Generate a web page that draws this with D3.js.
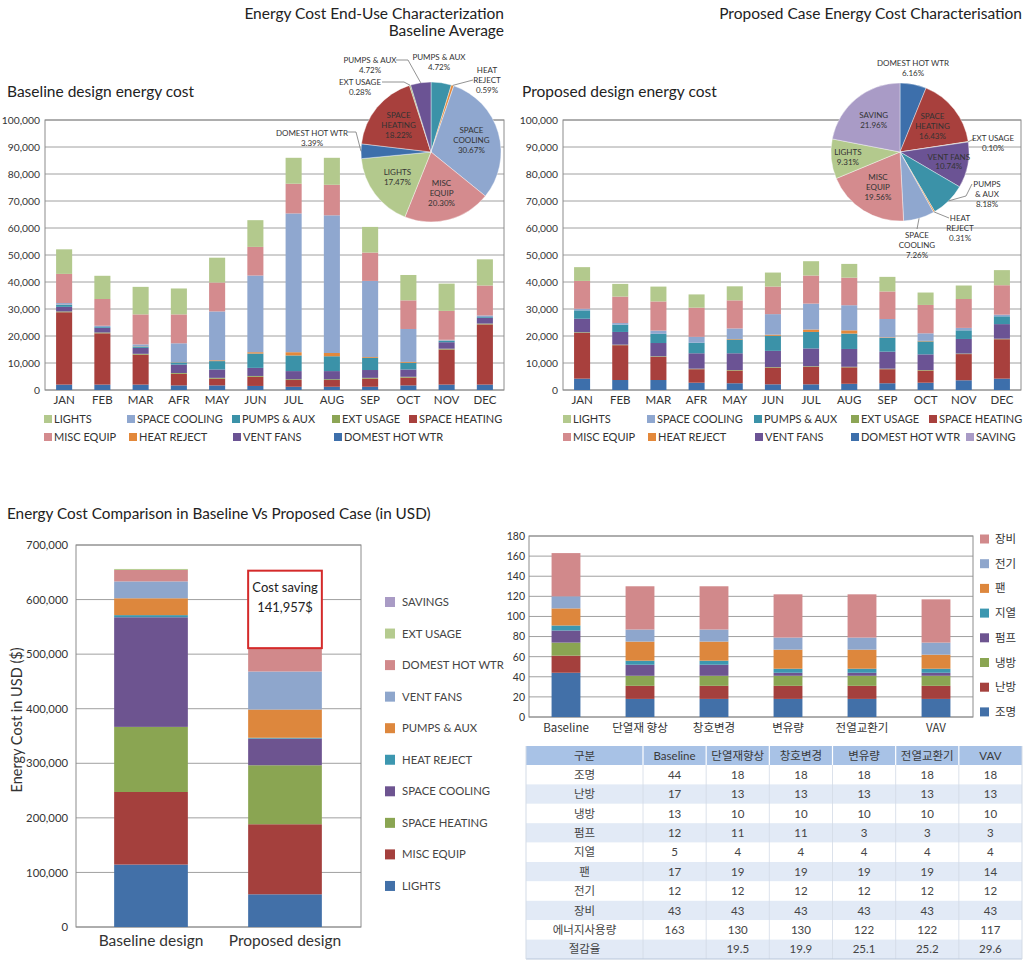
<!DOCTYPE html>
<html><head><meta charset="utf-8">
<script src="https://cdn.jsdelivr.net/npm/d3@7"></script>
<style>
body{margin:0;background:#fff}
svg{display:block}
text{font-family:Lato,'Noto Sans CJK KR','Noto Sans',sans-serif}
</style>
</head><body>
<svg id="c" width="1024" height="965"></svg>
<script>
// ---------------- DATA ----------------
const months = ["JAN","FEB","MAR","AFR","MAY","JUN","JUL","AUG","SEP","OCT","NOV","DEC"];
const monthlyKeys = ["DOMEST HOT WTR","SPACE HEATING","EXT USAGE","VENT FANS","PUMPS & AUX","HEAT REJECT","SPACE COOLING","MISC EQUIP","LIGHTS"];

// Baseline monthly energy cost ($)
const baseDomestHotWtr = [2000,2000,2000,1700,1700,1500,1200,1200,1200,1700,2000,2000];
const baseSpaceHeating = [26800,19000,11100,4300,2500,3400,2500,2500,3000,2900,13000,22300];
const baseExtUsage     = [300,300,300,300,300,300,300,300,300,300,300,300];
const baseVentFans     = [1700,1700,2200,3100,3100,3000,3000,3000,2900,2700,2400,2100];
const basePumpsAux     = [700,300,500,800,3100,5300,5800,5500,4500,2500,500,300];
const baseHeatReject   = [100,0,100,100,300,500,1200,1200,300,300,100,0];
const baseSpaceCooling = [600,500,700,7000,18100,28400,51400,51000,28200,12200,300,600];
const baseMiscEquip    = [10800,9900,11100,10700,10700,10600,11000,11300,10500,10600,10700,11100];
const baseLights       = [9100,8600,10200,9600,9200,9900,9600,10000,9500,9400,10100,9700];

// Proposed monthly energy cost ($)
const propDomestHotWtr = [4200,3700,3700,2700,2500,2100,2100,2300,2500,2700,3600,4200];
const propSpaceHeating = [17000,12900,8600,5000,4700,6200,6500,6100,5200,4500,9700,14600];
const propExtUsage     = [200,200,200,200,200,200,200,200,200,200,200,200];
const propVentFans     = [5000,4700,4900,5700,6200,6000,6600,6600,6300,5800,5400,5400];
const propPumpsAux     = [3100,2700,3400,3900,5100,5600,6100,5700,5100,4800,3200,2900];
const propHeatReject   = [0,0,0,0,200,400,900,1200,200,200,0,0];
const propSpaceCooling = [600,600,1200,2200,3900,7600,9600,9300,6800,2800,900,600];
const propMiscEquip    = [10300,9800,10800,10800,10400,10200,10400,10200,10200,10500,10700,10900];
const propLights       = [5100,4700,5500,4900,5200,5200,5300,5100,5400,4600,5000,5600];

const monthlyTicks = [0,10000,20000,30000,40000,50000,60000,70000,80000,90000,100000];

// Pie: baseline average
const basePieLabels = ["PUMPS & AUX","HEAT REJECT","SPACE COOLING","MISC EQUIP","LIGHTS","DOMEST HOT WTR","SPACE HEATING","EXT USAGE","PUMPS & AUX"];
const basePieKeys   = ["PUMPS & AUX","HEAT REJECT","SPACE COOLING","MISC EQUIP","LIGHTS","DOMEST HOT WTR","SPACE HEATING","EXT USAGE","VENT FANS"];
const basePieShares = [4.72,0.59,30.67,20.30,17.47,3.39,18.22,0.28,4.72];
// Pie: proposed case
const propPieLabels = ["DOMEST HOT WTR","SPACE HEATING","EXT USAGE","VENT FANS","PUMPS & AUX","HEAT REJECT","SPACE COOLING","MISC EQUIP","LIGHTS","SAVING"];
const propPieShares = [6.16,16.43,0.10,10.74,8.18,0.31,7.26,19.56,9.31,21.96];

// Annual comparison (USD)
const annualCategories = ["Baseline design","Proposed design"];
const annualKeys = ["LIGHTS","MISC EQUIP","SPACE HEATING","SPACE COOLING","HEAT REJECT","PUMPS & AUX","VENT FANS","DOMEST HOT WTR","EXT USAGE","SAVINGS"];
const annualBaseline = [114400,133000,119300,200900,3900,30900,30900,21000,1800,0];
const annualProposed = [59900,128400,108100,48900,1500,51700,69700,41600,1200,141957];
const annualTicks = [0,100000,200000,300000,400000,500000,600000,700000];
const costSaving = "141,957$";

// Korean comparison chart / table
const scenarios = ["Baseline","단열재 향상","창호변경","변유량","전열교환기","VAV"];
const scenarioHeads = ["Baseline","단열재향상","창호변경","변유량","전열교환기","VAV"];
const krKeys = ["조명","난방","냉방","펌프","지열","팬","전기","장비"];
const krLighting   = [44,18,18,18,18,18];
const krHeating    = [17,13,13,13,13,13];
const krCooling    = [13,10,10,10,10,10];
const krPump       = [12,11,11,3,3,3];
const krGeothermal = [5,4,4,4,4,4];
const krFan        = [17,19,19,19,19,14];
const krElectric   = [12,12,12,12,12,12];
const krEquipment  = [43,43,43,43,43,43];
const krEnergyUse  = [163,130,130,122,122,117];
const krSavingRate = ["",19.5,19.9,25.1,25.2,29.6];
const krTicks = [0,20,40,60,80,100,120,140,160,180];

// ---------------- STYLES ----------------
const monthlyColors = {
  "LIGHTS":"#b3c98d","SPACE COOLING":"#8fa7cf","PUMPS & AUX":"#3b92a8","EXT USAGE":"#8ca555",
  "SPACE HEATING":"#a8403d","MISC EQUIP":"#d48b8e","HEAT REJECT":"#e3883a","VENT FANS":"#6b5394",
  "DOMEST HOT WTR":"#3d6fab","SAVING":"#a99bc6"
};
const annualColors = {
  "LIGHTS":"#4270a8","MISC EQUIP":"#a4403d","SPACE HEATING":"#8aa552","SPACE COOLING":"#6d5490",
  "HEAT REJECT":"#3c97b0","PUMPS & AUX":"#dd873d","VENT FANS":"#8ea6cc","DOMEST HOT WTR":"#d1898b",
  "EXT USAGE":"#b5cb8f","SAVINGS":"#a99bc5"
};
const krColors = {"조명":"#4270a8","난방":"#a4403d","냉방":"#8aa552","펌프":"#6d5490","지열":"#3c97b0","팬":"#dd873d","전기":"#8ea6cc","장비":"#d1898b"};

const svg = d3.select("#c");
svg.append("rect").attr("width",1024).attr("height",965).attr("fill","#fff");
const fmt = d3.format(",");

function rowsFrom(arrs){
  return months.map((m,i)=>{ const r={month:m}; monthlyKeys.forEach((k,j)=>r[k]=arrs[j][i]); return r; });
}
const baseRows = rowsFrom([baseDomestHotWtr,baseSpaceHeating,baseExtUsage,baseVentFans,basePumpsAux,baseHeatReject,baseSpaceCooling,baseMiscEquip,baseLights]);
const propRows = rowsFrom([propDomestHotWtr,propSpaceHeating,propExtUsage,propVentFans,propPumpsAux,propHeatReject,propSpaceCooling,propMiscEquip,propLights]);

function monthlyChart(rows, x0, x1, yTop, yBot){
  const g = svg.append("g");
  const x = d3.scaleBand().domain(months).range([x0,x1]).paddingInner(0.58).paddingOuter(0.29);
  const y = d3.scaleLinear().domain([0,100000]).range([yBot,yTop]);
  g.selectAll("line.grid").data(monthlyTicks).join("line")
    .attr("x1",x0).attr("x2",x1).attr("y1",d=>y(d)).attr("y2",d=>y(d))
    .attr("stroke","#a0a0a0").attr("stroke-width",1);
  g.append("rect").attr("x",x0).attr("y",yTop).attr("width",x1-x0).attr("height",yBot-yTop)
    .attr("fill","none").attr("stroke","#8c8c8c");
  const ax = g.append("g").attr("transform",`translate(${x0},0)`)
    .call(d3.axisLeft(y).tickValues(monthlyTicks).tickFormat(fmt).tickSize(0).tickPadding(5));
  ax.select(".domain").remove();
  ax.selectAll("text").attr("font-size",10.3).attr("fill","#333").style("font-family","Lato");
  const stack = d3.stack().keys(monthlyKeys)(rows);
  g.selectAll("g.s").data(stack).join("g").attr("fill",d=>monthlyColors[d.key])
    .selectAll("rect").data(d=>d).join("rect")
    .attr("x",d=>x(d.data.month)).attr("width",x.bandwidth())
    .attr("y",d=>y(d[1])).attr("height",d=>Math.max(0,y(d[0])-y(d[1])));
  const xa = g.append("g").attr("transform",`translate(0,${yBot})`)
    .call(d3.axisBottom(x).tickSize(0).tickPadding(6));
  xa.select(".domain").remove();
  xa.selectAll("text").attr("font-size",11.5).attr("fill","#333").style("font-family","Lato");
}
monthlyChart(baseRows, 45, 504, 120, 390);
monthlyChart(propRows, 563, 1021, 120, 390);

// legends for monthly charts
function legendRow(items, xs, y, colors){
  const g = svg.append("g");
  items.forEach((k,i)=>{
    g.append("rect").attr("x",xs[i]).attr("y",y-4).attr("width",8).attr("height",8).attr("fill",colors[k]);
    g.append("text").attr("x",xs[i]+10).attr("y",y).attr("dy","0.35em").attr("font-size",11)
      .attr("fill","#333").text(k);
  });
}
legendRow(["LIGHTS","SPACE COOLING","PUMPS & AUX","EXT USAGE","SPACE HEATING"],[44,127,232,332,409],419,monthlyColors);
legendRow(["MISC EQUIP","HEAT REJECT","VENT FANS","DOMEST HOT WTR"],[44,129,233,334],437,monthlyColors);
legendRow(["LIGHTS","SPACE COOLING","PUMPS & AUX","EXT USAGE","SPACE HEATING"],[563,647,754,851,929],419,monthlyColors);
legendRow(["MISC EQUIP","HEAT REJECT","VENT FANS","DOMEST HOT WTR","SAVING"],[563,648,755,851,966],437,monthlyColors);

// titles
function txt(x,y,s,size,anchor,fill){
  return svg.append("text").attr("x",x).attr("y",y).attr("font-size",size).attr("text-anchor",anchor||"start")
    .attr("fill",fill||"#222").text(s);
}
txt(504,19,"Energy Cost End-Use Characterization",15.5,"end");
txt(504,36,"Baseline Average",15.5,"end");
txt(1022,19,"Proposed Case Energy Cost Characterisation",15.5,"end");
txt(7,97,"Baseline design energy cost",15.5);
txt(522,97,"Proposed design energy cost",15.5);

// ---------------- PIES ----------------
function pie(cx, cy, r, labels, keys, shares, inside, outside){
  const g = svg.append("g").attr("transform",`translate(${cx},${cy})`);
  const arcs = d3.pie().sort(null).value(d=>d)(shares);
  const arc = d3.arc().innerRadius(0).outerRadius(r);
  g.selectAll("path").data(arcs).join("path").attr("d",arc)
    .attr("fill",(d,i)=>monthlyColors[keys[i]]).attr("stroke","#fff").attr("stroke-width",0.4);
  const pct = v=>v.toFixed(2)+"%";
  inside.forEach(o=>{
    const a = arcs[o.i];
    const c = d3.arc().innerRadius(r*o.f).outerRadius(r*o.f).centroid(a);
    const lines = o.lines.concat([pct(shares[o.i])]);
    const t = g.append("text").attr("text-anchor","middle").attr("font-size",8).attr("fill","#333");
    lines.forEach((s,j)=>t.append("tspan").attr("x",c[0]).attr("y",c[1]+(j-(lines.length-1)/2)*10+3).text(s));
  });
  outside.forEach(o=>{
    const a = arcs[o.i];
    const e = d3.arc().innerRadius(r).outerRadius(r).centroid(a);
    if(o.lead){
      const pts = o.lead.map(p=>[p[0]-cx,p[1]-cy]).concat([e]);
      svg.append("path").attr("transform",`translate(${cx},${cy})`).attr("d",d3.line()(pts))
        .attr("fill","none").attr("stroke","#777").attr("stroke-width",0.8);
    }
    const lines = o.lines.concat([pct(shares[o.i])]);
    const t = svg.append("text").attr("text-anchor","middle").attr("font-size",8).attr("fill","#333");
    lines.forEach((s,j)=>t.append("tspan").attr("x",o.x).attr("y",o.y+j*10+3).text(s));
  });
}
pie(431,152,70,basePieLabels,basePieKeys,basePieShares,
  [{i:2,f:0.6,lines:["SPACE","COOLING"]},{i:3,f:0.6,lines:["MISC","EQUIP"]},{i:4,f:0.6,lines:["LIGHTS"]},{i:6,f:0.6,lines:["SPACE","HEATING"]}],
  [{i:8,x:370,y:60,lines:["PUMPS & AUX"],lead:[[396,60],[408,60]]},
   {i:7,x:360,y:82,lines:["EXT USAGE"],lead:[[382,82],[404,82]]},
   {i:0,x:439,y:57,lines:["PUMPS & AUX"]},
   {i:1,x:487,y:70,lines:["HEAT","REJECT"],lead:[[473,80]]},
   {i:5,x:312,y:133,lines:["DOMEST HOT WTR"],lead:[[348,132],[356,132]]}]);
pie(900,152,69,propPieLabels,propPieLabels,propPieShares,
  [{i:1,f:0.6,lines:["SPACE","HEATING"]},{i:3,f:0.72,lines:["VENT FANS"]},{i:7,f:0.6,lines:["MISC","EQUIP"]},{i:8,f:0.76,lines:["LIGHTS"]},{i:9,f:0.6,lines:["SAVING"]}],
  [{i:0,x:913,y:63,lines:["DOMEST HOT WTR"]},
   {i:2,x:993,y:138,lines:["EXT USAGE"],lead:[[974,139]]},
   {i:4,x:987,y:184,lines:["PUMPS","& AUX"],lead:[[972,184],[966,196]]},
   {i:5,x:960,y:218,lines:["HEAT","REJECT"],lead:[[949,218]]},
   {i:6,x:917,y:235,lines:["SPACE","COOLING"],lead:[[917,229]]}]);

// ---------------- ANNUAL COMPARISON ----------------
(function(){
  const g = svg.append("g");
  const yTop=545, yBot=927, x0=76, x1=361;
  txt(7,519,"Energy Cost Comparison in Baseline Vs Proposed Case (in USD)",15.3);
  const x = d3.scaleBand().domain(annualCategories).range([84,352]).paddingInner(0.45).paddingOuter(0.225);
  const y = d3.scaleLinear().domain([0,700000]).range([yBot,yTop]);
  g.selectAll("line.grid").data(annualTicks).join("line").attr("x1",x0).attr("x2",x1)
    .attr("y1",d=>y(d)).attr("y2",d=>y(d)).attr("stroke","#a0a0a0");
  g.append("rect").attr("x",x0).attr("y",yTop).attr("width",x1-x0).attr("height",yBot-yTop).attr("fill","none").attr("stroke","#8c8c8c");
  const ax = g.append("g").attr("transform",`translate(${x0},0)`)
    .call(d3.axisLeft(y).tickValues(annualTicks).tickFormat(fmt).tickSize(0).tickPadding(8));
  ax.select(".domain").remove();
  ax.selectAll("text").attr("font-size",11.3).attr("fill","#333").style("font-family","Lato");
  const rows = annualCategories.map((c,i)=>{const r={cat:c}; annualKeys.forEach((k,j)=>r[k]=(i===0?annualBaseline:annualProposed)[j]); return r;});
  const stack = d3.stack().keys(annualKeys)(rows);
  g.selectAll("g.s").data(stack).join("g").attr("fill",d=>annualColors[d.key])
    .selectAll("rect").data(d=>d).join("rect")
    .attr("x",d=>x(d.data.cat)).attr("width",x.bandwidth())
    .attr("y",d=>y(d[1])).attr("height",d=>Math.max(0,y(d[0])-y(d[1])));
  const xa = g.append("g").attr("transform",`translate(0,${yBot})`).call(d3.axisBottom(x).tickSize(0).tickPadding(8));
  xa.select(".domain").remove();
  xa.selectAll("text").attr("font-size",15.5).attr("fill","#333").style("font-family","Lato");
  // y title
  svg.append("text").attr("transform","translate(22,720) rotate(-90)").attr("text-anchor","middle")
    .attr("font-size",14.5).attr("fill","#333").text("Energy Cost in USD ($)");
  // cost saving box over savings segment
  const sv = stack[stack.length-1][1];
  const bx = x(sv.data.cat);
  g.append("rect").attr("x",bx).attr("y",y(sv[1])).attr("width",x.bandwidth()).attr("height",y(sv[0])-y(sv[1]))
    .attr("fill","#fff").attr("stroke","#d42a2a").attr("stroke-width",2);
  const cx = bx + x.bandwidth()/2;
  g.append("text").attr("x",cx).attr("y",y(sv[1])+21).attr("text-anchor","middle").attr("font-size",13).attr("fill","#222").text("Cost saving");
  g.append("text").attr("x",cx).attr("y",y(sv[1])+41).attr("text-anchor","middle").attr("font-size",13).attr("fill","#222").text(costSaving);
  // legend
  const legOrder = annualKeys.slice().reverse();
  legOrder.forEach((k,i)=>{
    const yy = 602 + i*31.55;
    svg.append("rect").attr("x",385).attr("y",yy-5).attr("width",10).attr("height",10).attr("fill",annualColors[k]);
    svg.append("text").attr("x",402).attr("y",yy).attr("dy","0.35em").attr("font-size",11.3).attr("fill","#444").text(k);
  });
})();

// ---------------- KOREAN CHART ----------------
(function(){
  const g = svg.append("g");
  const yTop=536, yBot=717, x0=529, x1=973;
  const x = d3.scaleBand().domain(scenarios).range([x0,x1]).paddingInner(0.61).paddingOuter(0.305);
  const y = d3.scaleLinear().domain([0,180]).range([yBot,yTop]);
  g.selectAll("line.grid").data(krTicks).join("line").attr("x1",x0).attr("x2",x1)
    .attr("y1",d=>y(d)).attr("y2",d=>y(d)).attr("stroke","#a0a0a0");
  g.append("rect").attr("x",x0).attr("y",yTop).attr("width",x1-x0).attr("height",yBot-yTop).attr("fill","none").attr("stroke","#8c8c8c");
  const ax = g.append("g").attr("transform",`translate(${x0},0)`)
    .call(d3.axisLeft(y).tickValues(krTicks).tickSize(0).tickPadding(4));
  ax.select(".domain").remove();
  ax.selectAll("text").attr("font-size",10.5).attr("fill","#333").style("font-family","Lato");
  const series = [krLighting,krHeating,krCooling,krPump,krGeothermal,krFan,krElectric,krEquipment];
  const rows = scenarios.map((s,i)=>{const r={s}; krKeys.forEach((k,j)=>r[k]=series[j][i]); return r;});
  const stack = d3.stack().keys(krKeys)(rows);
  g.selectAll("g.s").data(stack).join("g").attr("fill",d=>krColors[d.key])
    .selectAll("rect").data(d=>d).join("rect")
    .attr("x",d=>x(d.data.s)).attr("width",x.bandwidth())
    .attr("y",d=>y(d[1])).attr("height",d=>y(d[0])-y(d[1]));
  const xa = g.append("g").attr("transform",`translate(0,${yBot})`).call(d3.axisBottom(x).tickSize(0).tickPadding(7));
  xa.select(".domain").remove();
  xa.selectAll("text").attr("font-size",11.5).attr("fill","#333").style("font-family","'Noto Sans CJK KR',Lato");
  krKeys.slice().reverse().forEach((k,i)=>{
    const yy = 539 + i*24.7;
    svg.append("rect").attr("x",980).attr("y",yy-4.5).attr("width",9).attr("height",9).attr("fill",krColors[k]);
    svg.append("text").attr("x",995).attr("y",yy).attr("dy","0.35em").attr("font-size",11.5).attr("fill","#333")
      .style("font-family","'Noto Sans CJK KR'").text(k);
  });

  // table
  const t = svg.append("g").style("font-family","'Noto Sans CJK KR'");
  const rowLabels = krKeys.concat(["에너지사용량","절감율"]);
  const rowVals = series.concat([krEnergyUse,krSavingRate]);
  const tx0=526, tc1=643, tx1=1022;
  const col = d3.scaleBand().domain(scenarioHeads).range([tc1,tx1]);
  const row = d3.scaleBand().domain(rowLabels).range([765,959]);
  const headY0=746, headY1=765;
  t.append("rect").attr("x",tx0).attr("y",headY0).attr("width",tx1-tx0).attr("height",headY1-headY0).attr("fill","#a8c2e6");
  rowLabels.forEach((r,i)=>{
    t.append("rect").attr("x",tx0).attr("y",row(r)).attr("width",tx1-tx0).attr("height",row.bandwidth())
      .attr("fill",i%2===1?"#e2eaf6":"#fff");
  });
  const vx = [tc1].concat(scenarioHeads.slice(1).map(h=>col(h)));
  vx.forEach(v=>{
    t.append("line").attr("x1",v).attr("x2",v).attr("y1",headY0).attr("y2",headY1).attr("stroke","#fff").attr("stroke-width",1.2);
    t.append("line").attr("x1",v).attr("x2",v).attr("y1",headY1).attr("y2",959).attr("stroke","#d3dbe6").attr("stroke-width",0.8);
  });
  t.append("line").attr("x1",tx0).attr("x2",tx1).attr("y1",959).attr("y2",959).attr("stroke","#b9c7da");
  t.append("line").attr("x1",tx0).attr("x2",tx0).attr("y1",headY0).attr("y2",959).attr("stroke","#d3dbe6");
  t.append("line").attr("x1",tx1).attr("x2",tx1).attr("y1",headY0).attr("y2",959).attr("stroke","#d3dbe6");
  t.append("text").attr("x",(tx0+tc1)/2).attr("y",(headY0+headY1)/2).attr("dy","0.35em").attr("text-anchor","middle")
    .attr("font-size",11.5).attr("fill","#3a3a3a").text("구분");
  scenarioHeads.forEach(h=>{
    t.append("text").attr("x",col(h)+col.bandwidth()/2).attr("y",(headY0+headY1)/2).attr("dy","0.35em").attr("text-anchor","middle")
      .attr("font-size",11.5).attr("fill","#3a3a3a").text(h);
  });
  rowLabels.forEach((r,i)=>{
    const yy = row(r)+row.bandwidth()/2;
    t.append("text").attr("x",(tx0+tc1)/2).attr("y",yy).attr("dy","0.35em").attr("text-anchor","middle")
      .attr("font-size",11.5).attr("fill","#444").text(r);
    scenarioHeads.forEach((h,j)=>{
      t.append("text").attr("x",col(h)+col.bandwidth()/2).attr("y",yy).attr("dy","0.35em").attr("text-anchor","middle")
        .attr("font-size",11.5).attr("fill","#444").style("font-family","Lato").text(rowVals[i][j]);
    });
  });
})();
</script>
</body></html>
